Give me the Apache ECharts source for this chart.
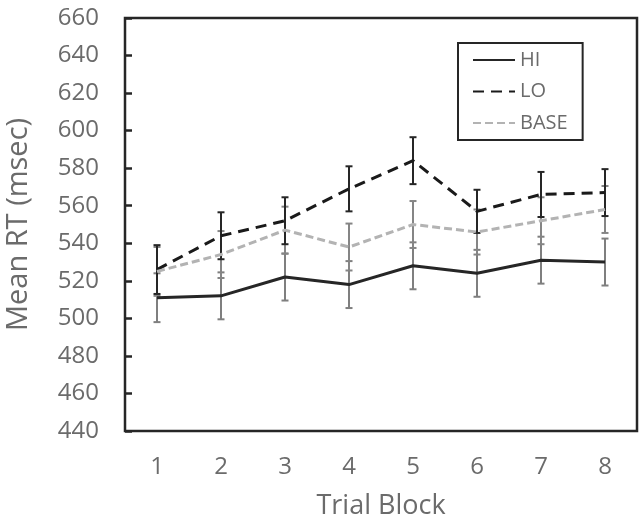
<!DOCTYPE html>
<html>
<head>
<meta charset="utf-8">
<script src="https://cdn.jsdelivr.net/npm/echarts@6/dist/echarts.min.js"></script>
<style>
  html, body { margin: 0; padding: 0; background: #fff; }
  #chart { width: 639px; height: 518px; }
</style>
</head>
<body>
<div id="chart"></div>
<script>
// 数据
const blocks = ['1', '2', '3', '4', '5', '6', '7', '8']
const hiMean = [511, 512, 522, 518, 528, 524, 531, 530]
const loMean = [526, 544, 552, 569, 584, 557, 566, 567]
const baseMean = [525, 534, 547, 538, 550, 546, 552, 558]
const hiErr = [13, 12.5, 12.5, 12.5, 12.5, 12.5, 12.5, 12.5]
const loErr = [13, 12.5, 12.5, 12, 12.5, 11.5, 12, 12.5]
const baseErr = [13, 12.5, 12.5, 12.5, 12.5, 12, 12.5, 12.5]
const yTicks = [440, 460, 480, 500, 520, 540, 560, 580, 600, 620, 640, 660]

const FONT = 'Open Sans'
const TEXT = '#6b6b6b'
const AXIS = '#262626'

// 误差线数据 [index, low, high]
const errData = (mean, err) => mean.map((m, i) => [i, m - err[i], m + err[i]])

// 误差线绘制
const errorBar = (name, mean, err, color) => ({
  name: name + '-err',
  type: 'custom',
  z: 1,
  silent: true,
  data: errData(mean, err),
  renderItem: (params, api) => {
    const lo = api.coord([api.value(0), api.value(1)])
    const hi = api.coord([api.value(0), api.value(2)])
    const w = 3.5
    const style = { stroke: color, lineWidth: 2 }
    return {
      type: 'group',
      children: [
        { type: 'line', shape: { x1: lo[0], y1: lo[1], x2: hi[0], y2: hi[1] }, style },
        { type: 'line', shape: { x1: lo[0] - w, y1: lo[1], x2: lo[0] + w, y2: lo[1] }, style },
        { type: 'line', shape: { x1: hi[0] - w, y1: hi[1], x2: hi[0] + w, y2: hi[1] }, style }
      ]
    }
  }
})

const lineSeries = (name, data, color, type) => ({
  name,
  type: 'line',
  z: 3,
  data,
  symbol: 'none',
  lineStyle: { color, width: 3, type },
  itemStyle: { color, opacity: 0 }
})

const myChart = echarts.init(document.getElementById('chart'))

const option = {
  animation: false,
  grid: {
    left: 125,
    right: 2,
    top: 18,
    bottom: 87,
    outerBoundsMode: 'none',
    show: true,
    borderColor: AXIS,
    borderWidth: 2.5
  },
  legend: {
    left: 458,
    top: 43,
    orient: 'vertical',
    padding: [7, 15, 7, 14],
    itemGap: 11.5,
    itemWidth: 42,
    itemHeight: 18,
    borderColor: AXIS,
    borderWidth: 2,
    itemStyle: { opacity: 0 },
    data: ['HI', 'LO', 'BASE'],
    textStyle: { fontFamily: FONT, fontSize: 20, color: TEXT }
  },
  xAxis: {
    type: 'category',
    data: blocks,
    boundaryGap: true,
    name: 'Trial Block',
    nameLocation: 'middle',
    nameGap: 62,
    nameTextStyle: { fontFamily: FONT, fontSize: 27, color: TEXT },
    axisLine: { show: false },
    axisTick: { show: false },
    axisLabel: { fontFamily: FONT, fontSize: 24, color: TEXT, margin: 24 }
  },
  yAxis: {
    type: 'value',
    min: yTicks[0],
    max: yTicks[yTicks.length - 1],
    interval: 20,
    name: 'Mean RT (msec)',
    nameLocation: 'middle',
    nameGap: 92,
    nameTextStyle: { fontFamily: FONT, fontSize: 29, color: TEXT },
    splitLine: { show: false },
    axisLine: { show: false },
    axisTick: { show: true, inside: true, length: 7, lineStyle: { color: AXIS, width: 2.5 } },
    axisLabel: { fontFamily: FONT, fontSize: 24, color: TEXT, margin: 26 }
  },
  series: [
    errorBar('HI', hiMean, hiErr, '#7f7f7f'),
    errorBar('BASE', baseMean, baseErr, '#858585'),
    errorBar('LO', loMean, loErr, '#262626'),
    lineSeries('HI', hiMean, '#262626', 'solid'),
    lineSeries('LO', loMean, '#1a1a1a', [11, 7]),
    lineSeries('BASE', baseMean, '#b3b3b3', [8, 4])
  ]
}

myChart.setOption(option)
</script>
</body>
</html>
